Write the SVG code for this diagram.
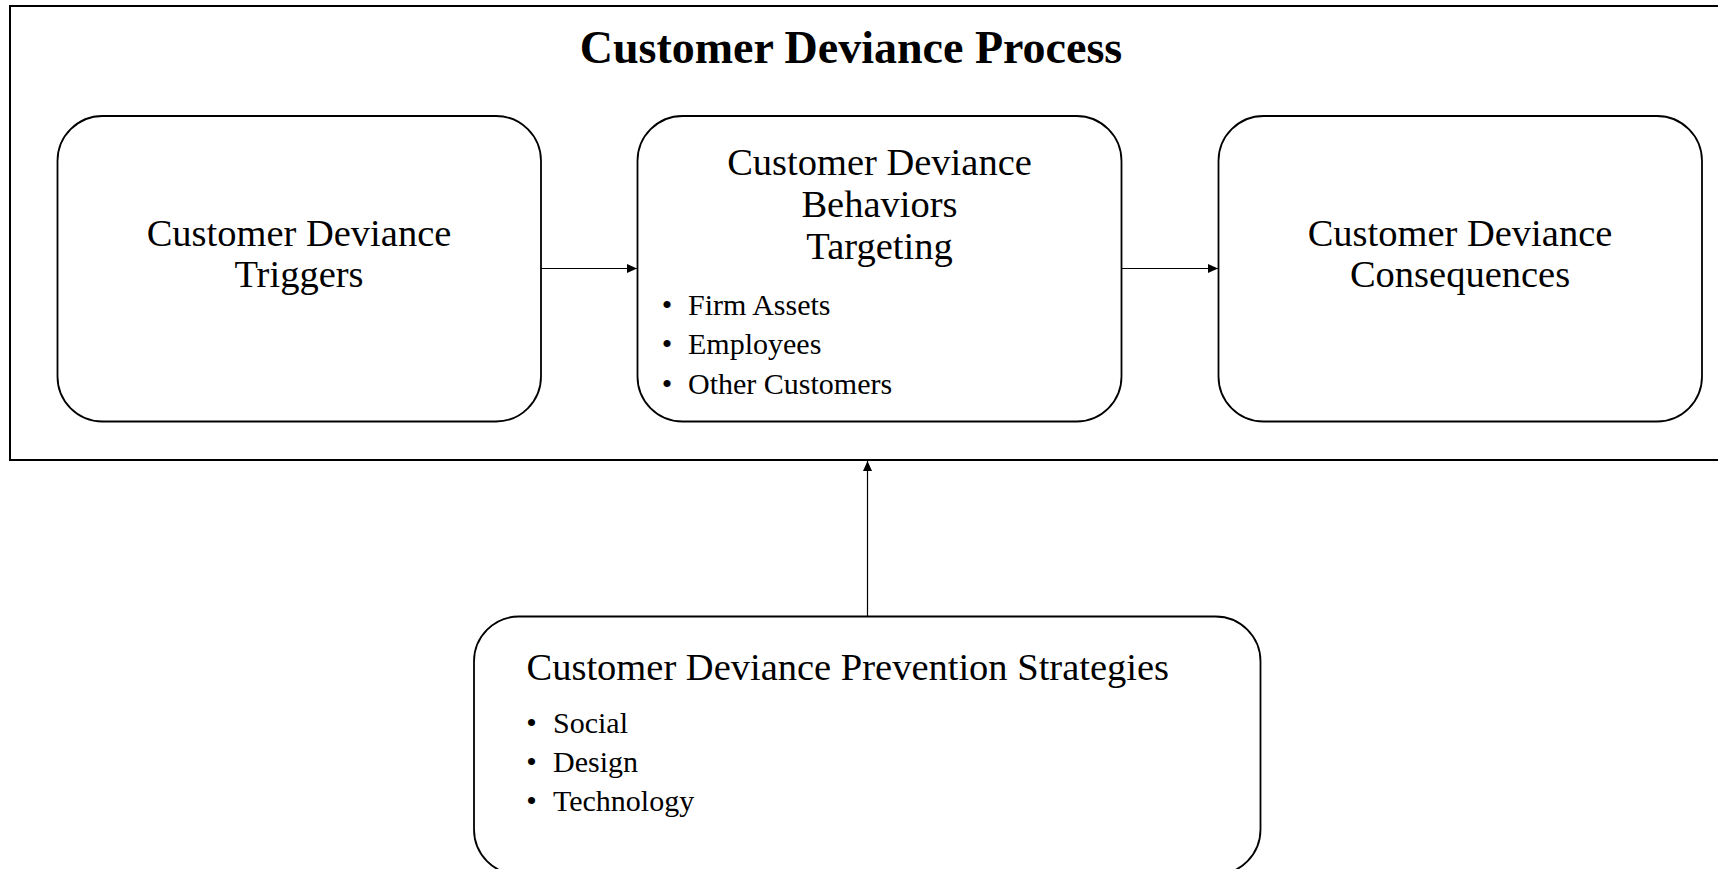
<svg xmlns="http://www.w3.org/2000/svg" width="1718" height="869" viewBox="0 0 1718 869">
<style>
.box{fill:#fff;stroke:#000;stroke-width:1.8}
.frame{fill:none;stroke:#000;stroke-width:2}
.t{font-family:"Liberation Serif","Times New Roman",serif;fill:#000}
.title{font-size:46px;font-weight:bold}
.head{font-size:38.5px}
.item{font-size:30px}
.conn{stroke:#000;stroke-width:1.2;fill:none}
</style>
<defs>
<marker id="arr" markerWidth="10" markerHeight="10" refX="10" refY="5" orient="auto" markerUnits="userSpaceOnUse">
<path d="M0,0.5 L10,5 L0,9.5 Z" fill="#000"/>
</marker>
</defs>
<rect width="1718" height="869" fill="#fff"/>
<g id="frame">
<rect class="frame" x="10" y="6" width="1720" height="454"/>
<text class="t title" x="851" y="63" text-anchor="middle">Customer Deviance Process</text>
</g>
<g id="connectors">
<line class="conn" x1="541" y1="268.5" x2="637" y2="268.5" marker-end="url(#arr)"/>
<line class="conn" x1="1121.5" y1="268.5" x2="1218" y2="268.5" marker-end="url(#arr)"/>
<line class="conn" x1="867.5" y1="616" x2="867.5" y2="461" marker-end="url(#arr)"/>
</g>
<g id="triggers">
<rect class="box" x="57.5" y="116" width="483.5" height="305.5" rx="45" ry="45"/>
<text class="t head" x="299" y="246" text-anchor="middle">Customer Deviance</text>
<text class="t head" x="299" y="287" text-anchor="middle">Triggers</text>
</g>
<g id="behaviors">
<rect class="box" x="637.5" y="116" width="484" height="305.5" rx="45" ry="45"/>
<text class="t head" x="879.5" y="175" text-anchor="middle">Customer Deviance</text>
<text class="t head" x="879.5" y="217" text-anchor="middle">Behaviors</text>
<text class="t head" x="879.5" y="258.5" text-anchor="middle">Targeting</text>
<text class="t item" x="667" y="314.5" text-anchor="middle">•</text>
<text class="t item" x="688" y="314.5">Firm Assets</text>
<text class="t item" x="667" y="354" text-anchor="middle">•</text>
<text class="t item" x="688" y="354">Employees</text>
<text class="t item" x="667" y="393.5" text-anchor="middle">•</text>
<text class="t item" x="688" y="393.5">Other Customers</text>
</g>
<g id="consequences">
<rect class="box" x="1218.5" y="116" width="483.5" height="305.5" rx="45" ry="45"/>
<text class="t head" x="1460" y="246" text-anchor="middle">Customer Deviance</text>
<text class="t head" x="1460" y="287" text-anchor="middle">Consequences</text>
</g>
<g id="prevention">
<rect class="box" x="474" y="616.5" width="786.5" height="258" rx="45" ry="45"/>
<text class="t head" x="526.5" y="679.5">Customer Deviance Prevention Strategies</text>
<text class="t item" x="531.5" y="733" text-anchor="middle">•</text>
<text class="t item" x="553" y="733">Social</text>
<text class="t item" x="531.5" y="772" text-anchor="middle">•</text>
<text class="t item" x="553" y="772">Design</text>
<text class="t item" x="531.5" y="811" text-anchor="middle">•</text>
<text class="t item" x="553" y="811">Technology</text>
</g>
</svg>
